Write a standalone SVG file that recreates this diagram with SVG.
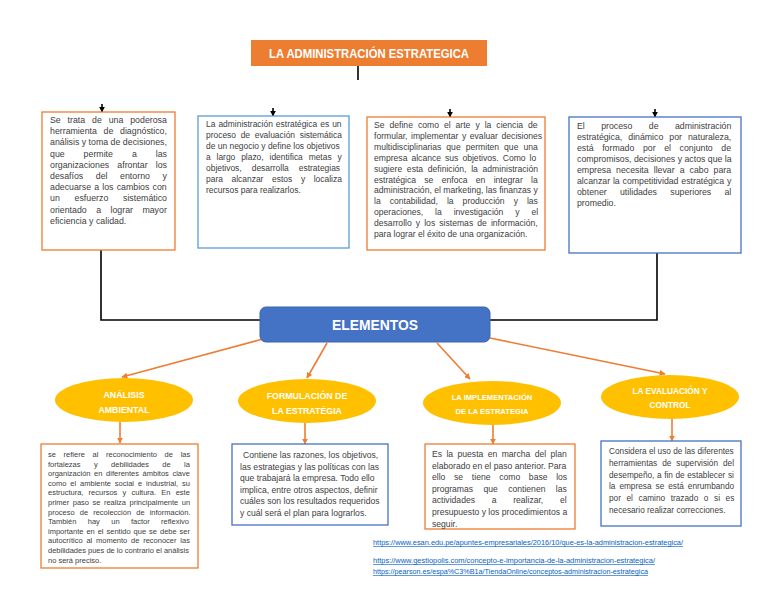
<svg xmlns="http://www.w3.org/2000/svg" width="768" height="594" viewBox="0 0 768 594">
<defs>
<marker id="ah" viewBox="0 0 10 10" refX="9" refY="5" markerWidth="6" markerHeight="6" markerUnits="userSpaceOnUse" orient="auto"><path d="M0,0 L10,5 L0,10 z" fill="#ED7D31"/></marker>
<marker id="bh" viewBox="0 0 10 10" refX="9" refY="5" markerWidth="6" markerHeight="6" markerUnits="userSpaceOnUse" orient="auto"><path d="M0,0 L10,5 L0,10 z" fill="#000"/></marker>
<style>
.ob{fill:#fff;stroke:#ED7D31;stroke-width:1.3}
.bb{fill:#fff;stroke:#4472C4;stroke-width:1.3}
.lb{fill:#fff;stroke:#5B9BD5;stroke-width:1.3}
.t{font-family:"Liberation Sans",Arial,sans-serif;fill:#404040}
.hd{font-family:"Liberation Sans",Arial,sans-serif;font-weight:bold;fill:#fff;text-anchor:middle}
.el{fill:#FFC000}
.oc{stroke:#ED7D31;stroke-width:1.6;fill:none;marker-end:url(#ah)}
.bc{stroke:#000;stroke-width:1.6;fill:none}
.lk{font-family:"Liberation Sans",Arial,sans-serif;font-size:6.3px;fill:#0563C1;text-decoration:underline}
</style>
</defs>
<rect width="768" height="594" fill="#fff"/>

<g id="connectors">
<line class="bc" x1="358" y1="66" x2="358" y2="80"/>
<line class="bc" x1="102" y1="104" x2="102" y2="112" marker-end="url(#bh)"/>
<line class="bc" x1="273" y1="108" x2="273" y2="116" marker-end="url(#bh)"/>
<line class="bc" x1="450" y1="109" x2="450" y2="117" marker-end="url(#bh)"/>
<line class="bc" x1="655" y1="109" x2="655" y2="117" marker-end="url(#bh)"/>
<path class="bc" d="M101 250 V320 H260"/>
<path class="bc" d="M657 253 V320 H490"/>
<line class="oc" x1="263" y1="339" x2="122" y2="377"/>
<line class="oc" x1="327" y1="343" x2="307" y2="378"/>
<line class="oc" x1="437" y1="343" x2="470" y2="379"/>
<line class="oc" x1="490" y1="338" x2="665" y2="374"/>
<line class="oc" x1="120" y1="422" x2="120" y2="443"/>
<line class="oc" x1="305" y1="423" x2="305" y2="444"/>
<line class="oc" x1="493" y1="425" x2="493" y2="444"/>
<line class="oc" x1="672" y1="419" x2="672" y2="441"/>
</g>

<g id="title">
<rect x="251" y="40" width="236" height="26" fill="#ED7D31"/>
<text class="hd" x="369" y="57.5" font-size="12" textLength="200" lengthAdjust="spacingAndGlyphs">LA ADMINISTRACIÓN ESTRATEGICA</text>
</g>

<g id="box1">
<rect class="ob" x="42" y="112" width="133" height="138"/>
<g class="t" font-size="8.8">
<text x="50" y="123" word-spacing="4.4">Se trata de una poderosa</text>
<text x="50" y="134.2" word-spacing="4.2">herramienta de diagnóstico,</text>
<text x="50" y="145.4">análisis y toma de decisiones,</text>
<text x="50" y="156.6" word-spacing="16.5">que permite a las</text>
<text x="50" y="167.8" word-spacing="5.7">organizaciones afrontar los</text>
<text x="50" y="179" word-spacing="10.1">desafíos del entorno y</text>
<text x="50" y="190.2" word-spacing="0.7">adecuarse a los cambios con</text>
<text x="50" y="201.4" word-spacing="12.3">un esfuerzo sistemático</text>
<text x="50" y="212.6" word-spacing="7">orientado a lograr mayor</text>
<text x="50" y="223.8">eficiencia y calidad.</text>
</g>
</g>

<g id="box2">
<rect class="lb" x="198" y="116" width="151" height="132"/>
<g class="t" font-size="8.45">
<text x="206" y="127" word-spacing="0.7">La administración estratégica es un</text>
<text x="206" y="138" word-spacing="2.3">proceso de evaluación sistemática</text>
<text x="206" y="149">de un negocio y define los objetivos</text>
<text x="206" y="160" word-spacing="3.5">a largo plazo, identifica metas y</text>
<text x="206" y="171" word-spacing="7.7">objetivos, desarrolla estrategias</text>
<text x="206" y="182" word-spacing="6.3">para alcanzar estos y localiza</text>
<text x="206" y="193">recursos para realizarlos.</text>
</g>
</g>

<g id="box3">
<rect class="ob" x="367" y="117" width="178" height="133"/>
<g class="t" font-size="8.6">
<text x="374" y="128" word-spacing="2.6">Se define como el arte y la ciencia de</text>
<text x="374" y="138.9" word-spacing="1.2">formular, implementar y evaluar decisiones</text>
<text x="374" y="149.8" word-spacing="2.6">multidisciplinarias que permiten que una</text>
<text x="374" y="160.7" word-spacing="1.6">empresa alcance sus objetivos. Como lo</text>
<text x="374" y="171.6" word-spacing="2.3">sugiere esta definición, la administración</text>
<text x="374" y="182.5" word-spacing="5.9">estratégica se enfoca en integrar la</text>
<text x="374" y="193.4">administración, el marketing, las finanzas y</text>
<text x="374" y="204.3" word-spacing="6.6">la contabilidad, la producción y las</text>
<text x="374" y="215.2" word-spacing="9.5">operaciones, la investigación y el</text>
<text x="374" y="226.1" word-spacing="1.7">desarrollo y los sistemas de información,</text>
<text x="374" y="237">para lograr el éxito de una organización.</text>
</g>
</g>

<g id="box4">
<rect class="bb" x="569" y="117" width="172" height="136"/>
<g class="t" font-size="8.75">
<text x="577" y="129" word-spacing="14">El proceso de administración</text>
<text x="577" y="140" word-spacing="3.6">estratégica, dinámico por naturaleza,</text>
<text x="577" y="151" word-spacing="6.2">está formado por el conjunto de</text>
<text x="577" y="162">compromisos, decisiones y actos que la</text>
<text x="577" y="173" word-spacing="2.6">empresa necesita llevar a cabo para</text>
<text x="577" y="184" word-spacing="0.4">alcanzar la competitividad estratégica y</text>
<text x="577" y="195" word-spacing="10.9">obtener utilidades superiores al</text>
<text x="577" y="206">promedio.</text>
</g>
</g>

<g id="elementos">
<rect x="260" y="307" width="230" height="35" rx="6" fill="#4472C4" stroke="#3A64AE" stroke-width="1"/>
<text class="hd" x="375" y="330" font-size="14.5" textLength="86" lengthAdjust="spacingAndGlyphs">ELEMENTOS</text>
</g>

<g id="e1">
<ellipse class="el" cx="124" cy="400" rx="69" ry="22"/>
<text class="hd" x="124" y="398" font-size="8.8">ANÁLISIS</text>
<text class="hd" x="124" y="413" font-size="8.8">AMBIENTAL</text>
</g>
<g id="e2">
<ellipse class="el" cx="307" cy="401" rx="69" ry="22"/>
<text class="hd" x="307" y="399" font-size="8.8">FORMULACIÓN DE</text>
<text class="hd" x="307" y="414" font-size="8.8">LA ESTRATÉGIA</text>
</g>
<g id="e3">
<ellipse class="el" cx="492" cy="403" rx="69" ry="22"/>
<text class="hd" x="492" y="400" font-size="7.6">LA IMPLEMENTACIÓN</text>
<text class="hd" x="492" y="414" font-size="7.6">DE LA ESTRATEGIA</text>
</g>
<g id="e4">
<ellipse class="el" cx="670" cy="397" rx="69" ry="22"/>
<text class="hd" x="670" y="394" font-size="8.3">LA EVALUACIÓN Y</text>
<text class="hd" x="670" y="408" font-size="8.3">CONTROL</text>
</g>

<g id="boxA">
<rect class="ob" x="41" y="444" width="157" height="124"/>
<g class="t" font-size="7.5">
<text x="48" y="457" word-spacing="5.6">se refiere al reconocimiento de las</text>
<text x="48" y="466.6" word-spacing="11.3">fortalezas y debilidades de la</text>
<text x="48" y="476.2" word-spacing="1.5">organización en diferentes ámbitos clave</text>
<text x="48" y="485.8" word-spacing="1.85">como el ambiente social e industrial, su</text>
<text x="48" y="495.4" word-spacing="3.1">estructura, recursos y cultura. En este</text>
<text x="48" y="505" word-spacing="1.4">primer paso se realiza principalmente un</text>
<text x="48" y="514.6" word-spacing="3">proceso de recolección de información.</text>
<text x="48" y="524.2" word-spacing="9.3">También hay un factor reflexivo</text>
<text x="48" y="533.8" word-spacing="0.87">importante en el sentido que se debe ser</text>
<text x="48" y="543.4" word-spacing="1.7">autocrítico al momento de reconocer las</text>
<text x="48" y="553">debilidades pues de lo contrario el análisis</text>
<text x="48" y="562.6">no será preciso.</text>
</g>
</g>

<g id="boxB">
<rect class="bb" x="232" y="444" width="156" height="81"/>
<g class="t" font-size="8.6">
<text x="243" y="458">Contiene las razones, los objetivos,</text>
<text x="240" y="469.6">las estrategias y las políticas con las</text>
<text x="240" y="481.2">que trabajará la empresa. Todo ello</text>
<text x="240" y="492.8">implica, entre otros aspectos, definir</text>
<text x="240" y="504.4">cuáles son los resultados requeridos</text>
<text x="240" y="516">y cuál será el plan para lograrlos.</text>
</g>
</g>

<g id="boxC">
<rect class="ob" x="425" y="444" width="150" height="85"/>
<g class="t" font-size="8.6">
<text x="432" y="457" word-spacing="2">Es la puesta en marcha del plan</text>
<text x="432" y="468.6">elaborado en el paso anterior. Para</text>
<text x="432" y="480.2" word-spacing="6.3">ello se tiene como base los</text>
<text x="432" y="491.8" word-spacing="8">programas que contienen las</text>
<text x="432" y="503.4" word-spacing="14.3">actividades a realizar, el</text>
<text x="432" y="515">presupuesto y los procedimientos a</text>
<text x="432" y="526.6">seguir.</text>
</g>
</g>

<g id="boxD">
<rect class="bb" x="601" y="441" width="140" height="85"/>
<g class="t" font-size="8.25">
<text x="609" y="454">Considera el uso de las diferentes</text>
<text x="609" y="465.8" word-spacing="2.7">herramientas de supervisión del</text>
<text x="609" y="477.6" word-spacing="0.3">desempeño, a fin de establecer si</text>
<text x="609" y="489.4" word-spacing="1.7">la empresa se está enrumbando</text>
<text x="609" y="501.2" word-spacing="3.3">por el camino trazado o si es</text>
<text x="609" y="513">necesario realizar correcciones.</text>
</g>
</g>

<g id="links">
<text class="lk" x="373" y="545" textLength="310" lengthAdjust="spacingAndGlyphs">https://www.esan.edu.pe/apuntes-empresariales/2016/10/que-es-la-administracion-estrategica/</text>
<text class="lk" x="373" y="563" textLength="282" lengthAdjust="spacingAndGlyphs">https://www.gestiopolis.com/concepto-e-importancia-de-la-administracion-estrategica/</text>
<text class="lk" x="373" y="574" textLength="275" lengthAdjust="spacingAndGlyphs">https://pearson.es/espa%C3%B1a/TiendaOnline/conceptos-administracion-estrategica</text>
</g>
</svg>
